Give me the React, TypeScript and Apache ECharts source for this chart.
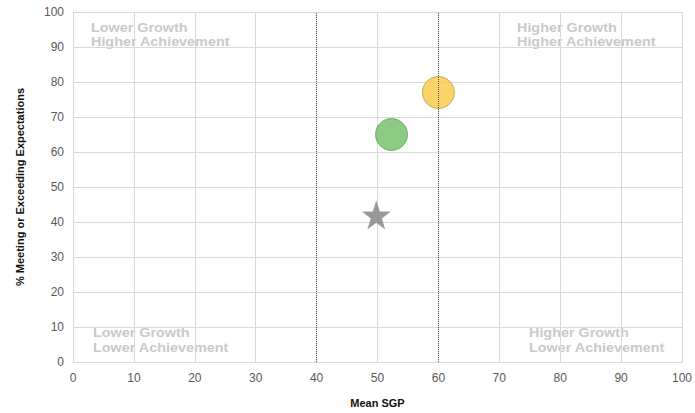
import React, { useEffect, useRef } from "react";
import * as echarts from "echarts";

const xTicks = [0, 100];
const yTicks = [0, 100];
const schoolPoint = [60, 77];
const districtPoint = [52.3, 65];
const statePoint = [49.8, 42];
const cutLines = [40, 60];
const quadrantLabels = [
  "Lower Growth\nHigher Achievement",
  "Higher Growth\nHigher Achievement",
  "Lower Growth\nLower Achievement",
  "Higher Growth\nLower Achievement",
];

const starPath =
  "path://M50,0 L61.8,35.1 L98.9,35.1 L68.8,57.1 L80.1,92.5 L50,70.6 L19.9,92.5 L31.2,57.1 L1.1,35.1 L38.2,35.1 Z";

export default function App() {
  const ref = useRef<HTMLDivElement>(null);
  useEffect(() => {
    const chart = echarts.init(ref.current!, undefined, { renderer: "svg" });
    const font = "'Liberation Sans', Arial, sans-serif";
    const qStyle = {
      fill: "#c9c9c9",
      font: `bold 12.5px ${font}`,
      lineHeight: 14.6,
      textVerticalAlign: "top",
      textAlign: "left",
    };
    const qText = (x: number, y: number, text: string) => ({
      type: "text",
      x,
      y,
      scaleX: 1.15,
      silent: true,
      style: { ...qStyle, text },
    });
    chart.setOption({
      animation: false,
      textStyle: { fontFamily: font },
      grid: { left: 73, right: 12, top: 12, bottom: 51 },
      xAxis: {
        type: "value",
        min: xTicks[0],
        max: xTicks[1],
        interval: 10,
        name: "Mean SGP",
        nameLocation: "middle",
        nameGap: 35,
        nameTextStyle: { fontWeight: "bold", fontSize: 11, color: "#111" },
        axisLine: { lineStyle: { color: "#d9d9d9" } },
        axisTick: { show: false },
        axisLabel: { color: "#595959", fontSize: 12, margin: 10 },
        splitLine: { lineStyle: { color: "#d9d9d9" } },
      },
      yAxis: {
        type: "value",
        min: yTicks[0],
        max: yTicks[1],
        interval: 10,
        name: "% Meeting or Exceeding Expectations",
        nameLocation: "middle",
        nameGap: 48,
        nameTextStyle: { fontWeight: "bold", fontSize: 11, color: "#111" },
        axisLine: { show: true, lineStyle: { color: "#d9d9d9" } },
        axisTick: { show: false },
        axisLabel: { color: "#595959", fontSize: 12, margin: 9 },
        splitLine: { lineStyle: { color: "#d9d9d9" } },
      },
      series: [
        {
          type: "scatter",
          data: [statePoint],
          symbol: starPath,
          symbolSize: 29,
          itemStyle: { color: "#7f7f7f" },
          markLine: {
            silent: true,
            symbol: "none",
            label: { show: false },
            lineStyle: { type: "dotted", color: "#595959", width: 1 },
            data: cutLines.map((v) => ({ xAxis: v })),
          },
        },
        {
          type: "scatter",
          data: [districtPoint],
          symbolSize: 32,
          itemStyle: { color: "#71bd65", borderColor: "#5e9e55", borderWidth: 1 },
        },
        {
          type: "scatter",
          data: [schoolPoint],
          symbolSize: 32,
          itemStyle: { color: "#f9c843", borderColor: "#b89a3c", borderWidth: 1 },
        },
      ],
      graphic: [
        qText(91, 20.3, quadrantLabels[0]),
        qText(517, 20.3, quadrantLabels[1]),
        qText(93, 326, quadrantLabels[2]),
        qText(529, 326, quadrantLabels[3]),
      ],
    });
    return () => chart.dispose();
  }, []);
  return <div ref={ref} style={{ width: 695, height: 413, position: "absolute", left: 0, top: 0 }} />;
}
